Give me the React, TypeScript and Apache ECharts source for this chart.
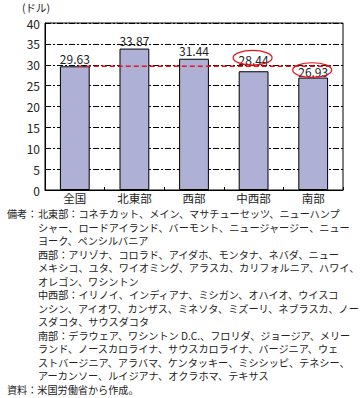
import React, { useEffect, useRef } from "react";
import * as echarts from "echarts";

const categories = ["全国", "北東部", "西部", "中西部", "南部"];
const wages = [29.63, 33.87, 31.44, 28.44, 26.93];
const labelDistances = [2, 2.5, 2.5, 6, 0];
const circled = [3, 4];
const nationalLevel = 29.63;
const refLineSpan = [0.05, 4.31];
const yTicks = { min: 0, max: 40, interval: 5 };
const unitLabel = "(ドル)";
const noteLines = [
  "北東部：コネチカット、メイン、マサチューセッツ、ニューハンプ",
  "シャー、ロードアイランド、バーモント、ニュージャージー、ニュー",
  "ヨーク、ペンシルバニア",
  "西部：アリゾナ、コロラド、アイダホ、モンタナ、ネバダ、ニュー",
  "メキシコ、ユタ、ワイオミング、アラスカ、カリフォルニア、ハワイ、",
  "オレゴン、ワシントン",
  "中西部：イリノイ、インディアナ、ミシガン、オハイオ、ウイスコ",
  "ンシン、アイオワ、カンザス、ミネソタ、ミズーリ、ネブラスカ、ノー",
  "スダコタ、サウスダコタ",
  "南部：デラウェア、ワシントン D.C.、フロリダ、ジョージア、メリー",
  "ランド、ノースカロライナ、サウスカロライナ、バージニア、ウェ",
  "ストバージニア、アラバマ、ケンタッキー、ミシシッピ、テネシー、",
  "アーカンソー、ルイジアナ、オクラホマ、テキサス",
];
const noteHead = "備考：";
const sourceText = "資料：米国労働省から作成。";

const FONT = '"Noto Sans CJK JP", "Noto Sans", sans-serif';
const TXT = "#222";

export default function App() {
  const ref = useRef<HTMLDivElement>(null);
  useEffect(() => {
    if (!ref.current) return;
    const chart = echarts.init(ref.current, undefined, { renderer: "svg" });
    const lineH = 13.5;
    const y0 = 213.5;
    const noteFont = `10.15px ${FONT}`;
    const textEls: any[] = [
      {
        type: "text",
        x: 22,
        y: 7,
        style: { text: unitLabel, font: `10.5px ${FONT}`, fill: TXT, verticalAlign: "middle" },
      },
      {
        type: "text",
        x: 7,
        y: y0,
        style: { text: noteHead, font: noteFont, fill: TXT, verticalAlign: "middle" },
      },
      ...noteLines.map((t, i) => ({
        type: "text",
        x: 38,
        y: y0 + i * lineH,
        style: { text: t, font: noteFont, fill: TXT, verticalAlign: "middle" },
      })),
      {
        type: "text",
        x: 7,
        y: y0 + noteLines.length * lineH,
        style: { text: sourceText, font: noteFont, fill: TXT, verticalAlign: "middle" },
      },
    ];
    chart.setOption({
      animation: false,
      grid: {
        left: 45,
        right: 18,
        top: 23,
        bottom: 208,
        show: true,
        borderColor: "#000",
        borderWidth: 1,
        containLabel: false,
      },
      xAxis: [
        {
          type: "category",
          data: categories,
          axisLine: { lineStyle: { color: "#000", width: 1 } },
          axisTick: { show: true, inside: true, length: 3, lineStyle: { color: "#000" } },
          axisLabel: { color: TXT, fontSize: 11.5, fontFamily: FONT, margin: 2 },
          splitLine: { show: false },
        },
        {
          type: "value",
          min: -0.5,
          max: 4.5,
          show: false,
          position: "bottom",
          axisLine: { show: false, onZero: false },
          splitLine: { show: false },
          axisLabel: { show: false },
          axisTick: { show: false },
        },
      ],
      yAxis: {
        type: "value",
        min: yTicks.min,
        max: yTicks.max,
        interval: yTicks.interval,
        axisLine: { show: true, onZero: false, lineStyle: { color: "#000", width: 1 } },
        axisTick: { show: false },
        axisLabel: { color: TXT, fontSize: 12, fontFamily: FONT, margin: 5 },
        splitLine: {
          show: true,
          lineStyle: { color: "#000", width: 1, type: [6, 2, 2, 2] },
        },
      },
      series: [
        {
          type: "bar",
          xAxisIndex: 0,
          barWidth: "50%",
          data: wages.map((v, i) => ({
            value: v,
            label: { distance: labelDistances[i] },
          })),
          itemStyle: { color: "#AFB0D6", borderColor: "#000", borderWidth: 1 },
          label: {
            show: true,
            position: "top",
            color: TXT,
            fontSize: 12,
            fontFamily: FONT,
            formatter: (p: any) => p.value.toFixed(2),
          },
          z: 2,
        },
        {
          type: "line",
          xAxisIndex: 1,
          data: refLineSpan.map((x) => [x, nationalLevel]),
          symbol: "none",
          lineStyle: { color: "#E8141B", width: 1.5, type: [5, 3] },
          z: 5,
        },
      ],
      graphic: textEls,
    });
    const ellipses = circled.map((i) => {
      const p = chart.convertToPixel({ seriesIndex: 0 }, [i, wages[i]]) as number[];
      const cy = p[1] - labelDistances[i] - 7.5;
      return {
        type: "ellipse",
        shape: { cx: p[0] - 1, cy, rx: 19.5, ry: 7.3 },
        style: { fill: "none", stroke: "#E8141B", lineWidth: 1.2 },
        z: 10,
      };
    });
    chart.setOption({ graphic: [...textEls, ...ellipses] });
    return () => chart.dispose();
  }, []);
  return (
    <div
      ref={ref}
      style={{ position: "absolute", left: 0, top: 0, width: 361, height: 398, background: "#fff" }}
    />
  );
}
